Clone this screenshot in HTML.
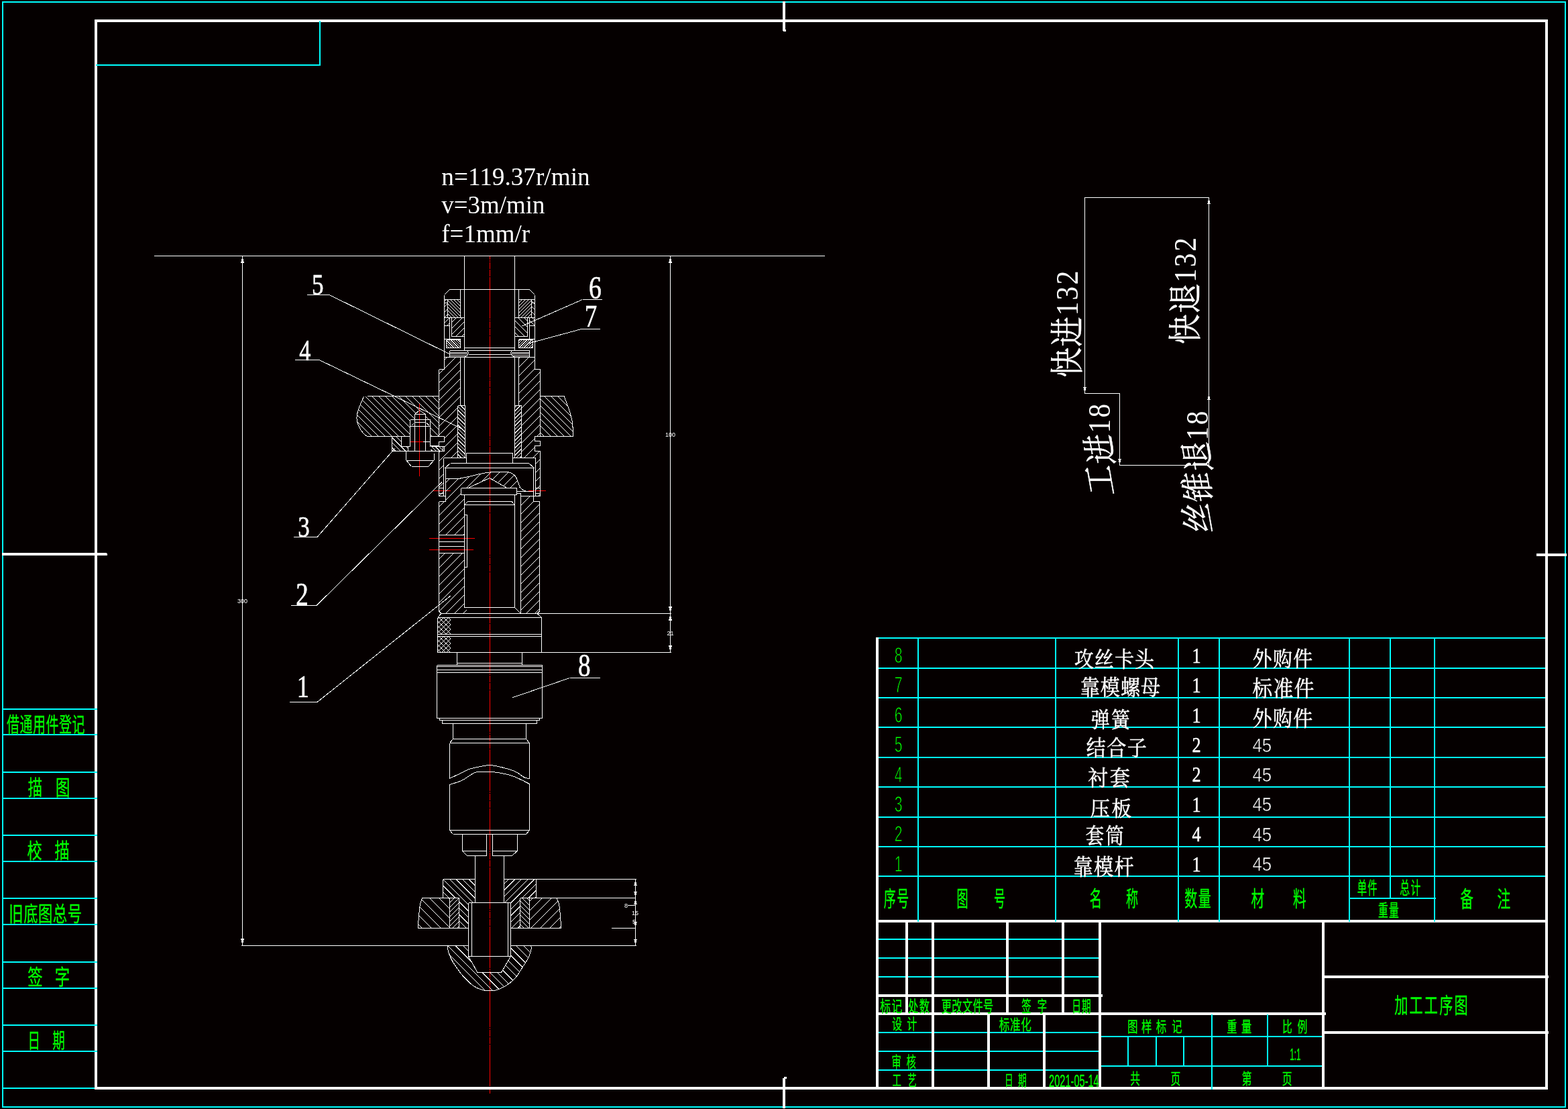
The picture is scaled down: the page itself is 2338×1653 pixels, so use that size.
<!DOCTYPE html>
<html lang="zh"><head><meta charset="utf-8"><title>加工工序图</title>
<style>html,body{margin:0;padding:0;background:#050000;}body{width:2338px;height:1653px;overflow:hidden;font-family:"Liberation Sans",sans-serif;}svg{display:block;will-change:transform}text{white-space:pre}.gl{font-family:"Liberation Sans","Noto Sans CJK SC",sans-serif;fill:#00ff00;stroke:#00ff00;stroke-width:0.4}.wl{font-family:"Liberation Serif","Noto Serif CJK SC",serif;fill:#ffffff;stroke:#ffffff;stroke-width:0.5}</style></head>
<body><svg width="2338" height="1653" viewBox="0 0 2338 1653">
<rect width="2338" height="1653" fill="#050000"/>
<path d="M730.5,381V1630" stroke="#ff0000" stroke-width="1" fill="none" stroke-dasharray="62 1 2 1 10 1 10 1" stroke-dashoffset="56" shape-rendering="crispEdges"/>
<rect x="3" y="2" width="2332" height="2" fill="#00ffff"/>
<rect x="3" y="1649" width="2332" height="2" fill="#00ffff"/>
<rect x="3" y="2" width="2" height="1649" fill="#00ffff"/>
<rect x="2333" y="2" width="2" height="1649" fill="#00ffff"/>
<rect x="141" y="29" width="2167" height="4" fill="#ffffff"/>
<rect x="141" y="1620" width="2167" height="4" fill="#ffffff"/>
<rect x="141" y="29" width="4" height="1595" fill="#ffffff"/>
<rect x="2304" y="29" width="4" height="1595" fill="#ffffff"/>
<rect x="1167" y="2" width="4" height="44" fill="#ffffff"/>
<rect x="1168" y="44" width="4" height="3" fill="#ffffff"/>
<rect x="1167" y="1607" width="4" height="45" fill="#ffffff"/>
<rect x="1169" y="1605" width="4" height="3" fill="#ffffff"/>
<rect x="3" y="824" width="156" height="4" fill="#ffffff"/>
<rect x="159" y="825" width="1" height="3" fill="#ffffff"/>
<rect x="2291" y="825" width="45" height="4" fill="#ffffff"/>
<rect x="143" y="96" width="335" height="2" fill="#00ffff"/>
<rect x="476" y="31" width="2" height="67" fill="#00ffff"/>
<rect x="5" y="1056" width="140" height="2" fill="#00ffff"/>
<rect x="5" y="1094" width="140" height="2" fill="#00ffff"/>
<rect x="5" y="1150" width="140" height="2" fill="#00ffff"/>
<rect x="5" y="1189" width="140" height="2" fill="#00ffff"/>
<rect x="5" y="1244" width="140" height="2" fill="#00ffff"/>
<rect x="5" y="1283" width="140" height="2" fill="#00ffff"/>
<rect x="5" y="1338" width="140" height="2" fill="#00ffff"/>
<rect x="5" y="1377" width="140" height="2" fill="#00ffff"/>
<rect x="5" y="1433" width="140" height="2" fill="#00ffff"/>
<rect x="5" y="1472" width="140" height="2" fill="#00ffff"/>
<rect x="5" y="1527" width="140" height="2" fill="#00ffff"/>
<rect x="5" y="1566" width="140" height="2" fill="#00ffff"/>
<rect x="5" y="1621" width="136" height="2" fill="#00ffff"/>
<rect x="1306" y="950" width="4" height="674" fill="#ffffff"/>
<rect x="1310" y="950" width="994" height="2" fill="#00ffff"/>
<rect x="1310" y="995" width="994" height="2" fill="#00ffff"/>
<rect x="1310" y="1039" width="994" height="2" fill="#00ffff"/>
<rect x="1310" y="1083" width="994" height="2" fill="#00ffff"/>
<rect x="1310" y="1128" width="994" height="2" fill="#00ffff"/>
<rect x="1310" y="1172" width="994" height="2" fill="#00ffff"/>
<rect x="1310" y="1217" width="994" height="2" fill="#00ffff"/>
<rect x="1310" y="1261" width="994" height="2" fill="#00ffff"/>
<rect x="1310" y="1305" width="994" height="2" fill="#00ffff"/>
<rect x="1368" y="950" width="2" height="422" fill="#00ffff"/>
<rect x="1573" y="950" width="2" height="422" fill="#00ffff"/>
<rect x="1756" y="950" width="2" height="422" fill="#00ffff"/>
<rect x="1817" y="950" width="2" height="422" fill="#00ffff"/>
<rect x="2011" y="950" width="2" height="422" fill="#00ffff"/>
<rect x="2138" y="950" width="2" height="422" fill="#00ffff"/>
<rect x="2072" y="950" width="2" height="389" fill="#00ffff"/>
<rect x="2011" y="1338" width="130" height="2" fill="#00ffff"/>
<rect x="1306" y="1371" width="1002" height="4" fill="#ffffff"/>
<rect x="1368" y="1371" width="2" height="3" fill="#00ffff"/>
<rect x="1573" y="1371" width="2" height="3" fill="#00ffff"/>
<rect x="1756" y="1371" width="2" height="3" fill="#00ffff"/>
<rect x="1817" y="1371" width="2" height="3" fill="#00ffff"/>
<rect x="2011" y="1371" width="2" height="3" fill="#00ffff"/>
<rect x="2138" y="1371" width="2" height="3" fill="#00ffff"/>
<rect x="1350" y="1374" width="4" height="138" fill="#ffffff"/>
<rect x="1389" y="1374" width="4" height="138" fill="#ffffff"/>
<rect x="1500" y="1374" width="4" height="138" fill="#ffffff"/>
<rect x="1583" y="1374" width="4" height="138" fill="#ffffff"/>
<rect x="1638" y="1374" width="4" height="250" fill="#ffffff"/>
<rect x="1306" y="1482" width="338" height="4" fill="#ffffff"/>
<rect x="1306" y="1509" width="671" height="4" fill="#ffffff"/>
<rect x="1389" y="1512" width="4" height="112" fill="#ffffff"/>
<rect x="1472" y="1512" width="4" height="112" fill="#ffffff"/>
<rect x="1555" y="1512" width="4" height="112" fill="#ffffff"/>
<rect x="1971" y="1374" width="4" height="250" fill="#ffffff"/>
<rect x="1974" y="1454" width="335" height="4" fill="#ffffff"/>
<rect x="1974" y="1537" width="335" height="4" fill="#ffffff"/>
<rect x="1310" y="1399" width="40" height="2" fill="#00ffff"/>
<rect x="1354" y="1399" width="35" height="2" fill="#00ffff"/>
<rect x="1393" y="1399" width="107" height="2" fill="#00ffff"/>
<rect x="1504" y="1399" width="79" height="2" fill="#00ffff"/>
<rect x="1587" y="1399" width="51" height="2" fill="#00ffff"/>
<rect x="1310" y="1427" width="40" height="2" fill="#00ffff"/>
<rect x="1354" y="1427" width="35" height="2" fill="#00ffff"/>
<rect x="1393" y="1427" width="107" height="2" fill="#00ffff"/>
<rect x="1504" y="1427" width="79" height="2" fill="#00ffff"/>
<rect x="1587" y="1427" width="51" height="2" fill="#00ffff"/>
<rect x="1310" y="1455" width="40" height="2" fill="#00ffff"/>
<rect x="1354" y="1455" width="35" height="2" fill="#00ffff"/>
<rect x="1393" y="1455" width="107" height="2" fill="#00ffff"/>
<rect x="1504" y="1455" width="79" height="2" fill="#00ffff"/>
<rect x="1587" y="1455" width="51" height="2" fill="#00ffff"/>
<rect x="1310" y="1538" width="79" height="2" fill="#00ffff"/>
<rect x="1393" y="1538" width="79" height="2" fill="#00ffff"/>
<rect x="1476" y="1538" width="79" height="2" fill="#00ffff"/>
<rect x="1559" y="1538" width="79" height="2" fill="#00ffff"/>
<rect x="1310" y="1566" width="79" height="2" fill="#00ffff"/>
<rect x="1393" y="1566" width="79" height="2" fill="#00ffff"/>
<rect x="1476" y="1566" width="79" height="2" fill="#00ffff"/>
<rect x="1559" y="1566" width="79" height="2" fill="#00ffff"/>
<rect x="1310" y="1594" width="79" height="2" fill="#00ffff"/>
<rect x="1393" y="1594" width="79" height="2" fill="#00ffff"/>
<rect x="1476" y="1594" width="79" height="2" fill="#00ffff"/>
<rect x="1559" y="1594" width="79" height="2" fill="#00ffff"/>
<rect x="1642" y="1544" width="329" height="2" fill="#00ffff"/>
<rect x="1642" y="1588" width="329" height="2" fill="#00ffff"/>
<rect x="1806" y="1512" width="2" height="112" fill="#00ffff"/>
<rect x="1889" y="1512" width="2" height="77" fill="#00ffff"/>
<rect x="1681" y="1545" width="2" height="44" fill="#00ffff"/>
<rect x="1723" y="1545" width="2" height="44" fill="#00ffff"/>
<rect x="1764" y="1545" width="2" height="44" fill="#00ffff"/>
<text class="gl" transform="translate(10.03,1090.72) scale(0.625,1)" font-size="30.4" letter-spacing="0.8">借通用件登记</text>
<text class="gl" transform="translate(41.72,1184.72) scale(0.7,1)" font-size="30.4" x="0 58.8">描图</text>
<text class="gl" transform="translate(40.61,1278.72) scale(0.73,1)" font-size="30.4" x="0 56.2">校描</text>
<text class="gl" transform="translate(13.36,1372.68) scale(0.687,1)" font-size="31" letter-spacing="0.8">旧底图总号</text>
<text class="gl" transform="translate(41.21,1467.64) scale(0.71,1)" font-size="31.5" x="0 57">签字</text>
<text class="gl" transform="translate(41.46,1561.72) scale(0.61,1)" font-size="30.4" x="0 60.4">日期</text>
<text class="gl" transform="translate(1317.76,1350.64) scale(0.571,1)" font-size="31.5" letter-spacing="2.5">序号</text>
<text class="gl" transform="translate(1426.53,1350.64) scale(0.54,1)" font-size="31.5" x="0 102.6">图号</text>
<text class="gl" transform="translate(1624.69,1350.64) scale(0.575,1)" font-size="31.5" x="0 94.5">名称</text>
<text class="gl" transform="translate(1766.23,1350.64) scale(0.603,1)" font-size="31.5" letter-spacing="2.7">数量</text>
<text class="gl" transform="translate(1865.61,1350.64) scale(0.623,1)" font-size="31.5" x="0 100">材料</text>
<text class="gl" transform="translate(2023.87,1332.72) scale(0.542,1)" font-size="26.4" letter-spacing="2.1">单件</text>
<text class="gl" transform="translate(2087.35,1332.72) scale(0.56,1)" font-size="26.4" letter-spacing="2.3">总计</text>
<text class="gl" transform="translate(2055.05,1366.31) scale(0.587,1)" font-size="25.2" letter-spacing="2.1">重量</text>
<text class="gl" transform="translate(2177.21,1351.55) scale(0.604,1)" font-size="32.6" x="0 91.7">备注</text>
<text class="gl" transform="translate(1312.22,1508.29) scale(0.697,1)" font-size="22.8" letter-spacing="1.9">标记</text>
<text class="gl" transform="translate(1354.04,1508.29) scale(0.675,1)" font-size="22.8" letter-spacing="1.85">处数</text>
<text class="gl" transform="translate(1403.74,1508.29) scale(0.667,1)" font-size="22.8" letter-spacing="0.6">更改文件号</text>
<text class="gl" transform="translate(1523.26,1508.29) scale(0.63,1)" font-size="22.8" x="0 37.3">签字</text>
<text class="gl" transform="translate(1598.19,1508.29) scale(0.605,1)" font-size="22.8" letter-spacing="1.9">日期</text>
<text class="gl" transform="translate(1330.04,1534.42) scale(0.715,1)" font-size="21.1" x="0 31.2">设计</text>
<text class="gl" transform="translate(1489.73,1535.37) scale(0.719,1)" font-size="21.7" letter-spacing="1">标准化</text>
<text class="gl" transform="translate(1329.61,1591.14) scale(0.65,1)" font-size="22.2" x="0 33.7">审核</text>
<text class="gl" transform="translate(1330.59,1618.21) scale(0.635,1)" font-size="21.2" x="0 35.6">工艺</text>
<text class="gl" transform="translate(1498.09,1618.21) scale(0.6,1)" font-size="21.2" x="0 33.1">日期</text>
<text class="gl" transform="translate(1680.99,1537.96) scale(0.71,1)" font-size="21.8" x="0 29.5 60.1 93.4">图样标记</text>
<text class="gl" transform="translate(1829.26,1537.96) scale(0.7,1)" font-size="21.8" x="0 30.9">重量</text>
<text class="gl" transform="translate(1912.06,1537.96) scale(0.68,1)" font-size="21.8" x="0 33.2">比例</text>
<text class="gl" transform="translate(1685.33,1616.00) scale(0.65,1)" font-size="22.7" x="0 92.7">共页</text>
<text class="gl" transform="translate(1851.83,1616.00) scale(0.65,1)" font-size="22.7" x="0 92.1">第页</text>
<text class="gl" transform="translate(2079.13,1509.75) scale(0.63,1)" font-size="32" letter-spacing="3.5">加工工序图</text>
<text transform="translate(1333.65,987.90) scale(0.6306,1)" font-family="Liberation Sans, serif" font-size="33.52" fill="#00ff00" text-anchor="start" font-weight="normal" stroke="#050000" stroke-width="0.9">8</text>
<text transform="translate(1333.65,1032.30) scale(0.6306,1)" font-family="Liberation Sans, serif" font-size="33.52" fill="#00ff00" text-anchor="start" font-weight="normal" stroke="#050000" stroke-width="0.9">7</text>
<text transform="translate(1333.65,1076.70) scale(0.6306,1)" font-family="Liberation Sans, serif" font-size="33.52" fill="#00ff00" text-anchor="start" font-weight="normal" stroke="#050000" stroke-width="0.9">6</text>
<text transform="translate(1333.65,1121.10) scale(0.6306,1)" font-family="Liberation Sans, serif" font-size="33.52" fill="#00ff00" text-anchor="start" font-weight="normal" stroke="#050000" stroke-width="0.9">5</text>
<text transform="translate(1333.65,1165.50) scale(0.6306,1)" font-family="Liberation Sans, serif" font-size="33.52" fill="#00ff00" text-anchor="start" font-weight="normal" stroke="#050000" stroke-width="0.9">4</text>
<text transform="translate(1333.65,1209.90) scale(0.6306,1)" font-family="Liberation Sans, serif" font-size="33.52" fill="#00ff00" text-anchor="start" font-weight="normal" stroke="#050000" stroke-width="0.9">3</text>
<text transform="translate(1333.65,1254.30) scale(0.6306,1)" font-family="Liberation Sans, serif" font-size="33.52" fill="#00ff00" text-anchor="start" font-weight="normal" stroke="#050000" stroke-width="0.9">2</text>
<text transform="translate(1333.65,1298.70) scale(0.6306,1)" font-family="Liberation Sans, serif" font-size="33.52" fill="#00ff00" text-anchor="start" font-weight="normal" stroke="#050000" stroke-width="0.9">1</text>
<text transform="translate(1564.02,1619.80) scale(0.5882,1)" font-family="Liberation Sans, serif" font-size="24.86" fill="#00ff00" text-anchor="start" font-weight="normal" stroke="#00ff00" stroke-width="0.5">2021-05-14</text>
<text transform="translate(1923.33,1579.70) scale(0.4834,1)" font-family="Liberation Sans, serif" font-size="24.30" fill="#00ff00" text-anchor="start" font-weight="normal" stroke="#00ff00" stroke-width="0.5">1:1</text>
<text class="wl" transform="translate(1601.73,993.80) scale(0.907,1)" font-size="32.1" letter-spacing="1.1">攻丝卡头</text>
<text class="wl" transform="translate(1610.73,1036.10) scale(0.907,1)" font-size="32.1" letter-spacing="1.1">靠模螺母</text>
<text class="wl" transform="translate(1626.66,1083.60) scale(0.875,1)" font-size="32" letter-spacing="2.6">弹簧</text>
<text class="wl" transform="translate(1619.83,1125.60) scale(0.907,1)" font-size="32.1" letter-spacing="1.5">结合子</text>
<text class="wl" transform="translate(1622.09,1170.80) scale(0.944,1)" font-size="32" letter-spacing="2.6">衬套</text>
<text class="wl" transform="translate(1625.51,1216.19) scale(0.964,1)" font-size="30.8" letter-spacing="2.5">压板</text>
<text class="wl" transform="translate(1618.78,1256.90) scale(0.856,1)" font-size="32" letter-spacing="2.6">套筒</text>
<text class="wl" transform="translate(1600.53,1304.41) scale(0.877,1)" font-size="33.3" letter-spacing="1.5">靠模杆</text>
<text class="wl" transform="translate(1867.63,993.10) scale(0.941,1)" font-size="30.7" letter-spacing="1.5">外购件</text>
<text class="wl" transform="translate(1867.61,1037.95) scale(0.911,1)" font-size="32.6" letter-spacing="1.5">标准件</text>
<text class="wl" transform="translate(1867.63,1081.94) scale(0.92,1)" font-size="31.4" letter-spacing="1.5">外购件</text>
<text transform="translate(1784.00,987.80) scale(0.8500,1)" font-family="Liberation Serif, serif" font-size="30.8" fill="#ffffff" text-anchor="middle" font-weight="normal" stroke="#ffffff" stroke-width="0.5">1</text>
<text transform="translate(1784.00,1032.20) scale(0.8500,1)" font-family="Liberation Serif, serif" font-size="30.8" fill="#ffffff" text-anchor="middle" font-weight="normal" stroke="#ffffff" stroke-width="0.5">1</text>
<text transform="translate(1784.00,1076.60) scale(0.8500,1)" font-family="Liberation Serif, serif" font-size="30.8" fill="#ffffff" text-anchor="middle" font-weight="normal" stroke="#ffffff" stroke-width="0.5">1</text>
<text transform="translate(1784.00,1121.00) scale(0.8500,1)" font-family="Liberation Serif, serif" font-size="30.8" fill="#ffffff" text-anchor="middle" font-weight="normal" stroke="#ffffff" stroke-width="0.5">2</text>
<text transform="translate(1784.00,1165.40) scale(0.8500,1)" font-family="Liberation Serif, serif" font-size="30.8" fill="#ffffff" text-anchor="middle" font-weight="normal" stroke="#ffffff" stroke-width="0.5">2</text>
<text transform="translate(1784.00,1209.80) scale(0.8500,1)" font-family="Liberation Serif, serif" font-size="30.8" fill="#ffffff" text-anchor="middle" font-weight="normal" stroke="#ffffff" stroke-width="0.5">1</text>
<text transform="translate(1784.00,1254.20) scale(0.8500,1)" font-family="Liberation Serif, serif" font-size="30.8" fill="#ffffff" text-anchor="middle" font-weight="normal" stroke="#ffffff" stroke-width="0.5">4</text>
<text transform="translate(1784.00,1298.60) scale(0.8500,1)" font-family="Liberation Serif, serif" font-size="30.8" fill="#ffffff" text-anchor="middle" font-weight="normal" stroke="#ffffff" stroke-width="0.5">1</text>
<text transform="translate(1867.46,1120.50) scale(0.8833,1)" font-family="Liberation Sans, serif" font-size="29.33" fill="#ffffff" text-anchor="start" font-weight="normal" stroke="#050000" stroke-width="0.6">45</text>
<text transform="translate(1867.46,1164.90) scale(0.8833,1)" font-family="Liberation Sans, serif" font-size="29.33" fill="#ffffff" text-anchor="start" font-weight="normal" stroke="#050000" stroke-width="0.6">45</text>
<text transform="translate(1867.46,1209.30) scale(0.8833,1)" font-family="Liberation Sans, serif" font-size="29.33" fill="#ffffff" text-anchor="start" font-weight="normal" stroke="#050000" stroke-width="0.6">45</text>
<text transform="translate(1867.46,1253.70) scale(0.8833,1)" font-family="Liberation Sans, serif" font-size="29.33" fill="#ffffff" text-anchor="start" font-weight="normal" stroke="#050000" stroke-width="0.6">45</text>
<text transform="translate(1867.46,1298.10) scale(0.8833,1)" font-family="Liberation Sans, serif" font-size="29.33" fill="#ffffff" text-anchor="start" font-weight="normal" stroke="#050000" stroke-width="0.6">45</text>
<text x="658.3" y="276.1" font-family="Liberation Serif, serif" font-size="38.5" fill="#ffffff" textLength="221.3" lengthAdjust="spacingAndGlyphs">n=119.37r/min</text>
<text x="658.3" y="318.4" font-family="Liberation Serif, serif" font-size="38.5" fill="#ffffff" textLength="154.2" lengthAdjust="spacingAndGlyphs">v=3m/min</text>
<text x="658.3" y="360.8" font-family="Liberation Serif, serif" font-size="38.5" fill="#ffffff" textLength="131.7" lengthAdjust="spacingAndGlyphs">f=1mm/r</text>
<path d="M361.5,382L358.9,392L364.1,392Z" fill="#ffffff" shape-rendering="crispEdges"/>
<path d="M361.5,1409L358.9,1399L364.1,1399Z" fill="#ffffff" shape-rendering="crispEdges"/>
<path d="M999.5,382L996.9,392L1002.1,392Z" fill="#ffffff" shape-rendering="crispEdges"/>
<path d="M999.5,914L996.9,904L1002.1,904Z" fill="#ffffff" shape-rendering="crispEdges"/>
<path d="M999.5,915L996.9,925L1002.1,925Z" fill="#ffffff" shape-rendering="crispEdges"/>
<path d="M999.5,972L996.9,962L1002.1,962Z" fill="#ffffff" shape-rendering="crispEdges"/>
<path d="M947.5,1311L945.3,1320L949.7,1320Z" fill="#ffffff" shape-rendering="crispEdges"/>
<path d="M947.5,1338L945.3,1329L949.7,1329Z" fill="#ffffff" shape-rendering="crispEdges"/>
<path d="M947.5,1339L945.3,1348L949.7,1348Z" fill="#ffffff" shape-rendering="crispEdges"/>
<path d="M947.5,1383L945.3,1374L949.7,1374Z" fill="#ffffff" shape-rendering="crispEdges"/>
<path d="M947.5,1409L945.3,1400L949.7,1400Z" fill="#ffffff" shape-rendering="crispEdges"/>
<text x="361.5" y="899" font-family="Liberation Sans, sans-serif" font-size="9" fill="#ffffff" text-anchor="middle">300</text>
<text x="999.5" y="651" font-family="Liberation Sans, sans-serif" font-size="9" fill="#ffffff" text-anchor="middle">100</text>
<text x="999.5" y="947" font-family="Liberation Sans, sans-serif" font-size="9" fill="#ffffff" text-anchor="middle">21</text>
<text x="933.5" y="1353" font-family="Liberation Sans, sans-serif" font-size="9" fill="#ffffff" text-anchor="middle">8</text>
<text x="947" y="1364" font-family="Liberation Sans, sans-serif" font-size="9" fill="#ffffff" text-anchor="middle">15</text>
<text x="945.5" y="1377" font-family="Liberation Sans, sans-serif" font-size="9" fill="#ffffff" text-anchor="middle">5</text>
<text transform="translate(473.80,438.70) scale(0.7800,1)" font-family="Liberation Serif, serif" font-size="45.0" fill="#ffffff" text-anchor="middle" font-weight="normal" stroke="#ffffff" stroke-width="0.6">5</text>
<text transform="translate(454.70,537.10) scale(0.7800,1)" font-family="Liberation Serif, serif" font-size="43.9" fill="#ffffff" text-anchor="middle" font-weight="normal" stroke="#ffffff" stroke-width="0.6">4</text>
<text transform="translate(452.90,799.60) scale(0.7800,1)" font-family="Liberation Serif, serif" font-size="45.0" fill="#ffffff" text-anchor="middle" font-weight="normal" stroke="#ffffff" stroke-width="0.6">3</text>
<text transform="translate(450.60,901.90) scale(0.7800,1)" font-family="Liberation Serif, serif" font-size="47.5" fill="#ffffff" text-anchor="middle" font-weight="normal" stroke="#ffffff" stroke-width="0.6">2</text>
<text transform="translate(451.80,1038.50) scale(0.7800,1)" font-family="Liberation Serif, serif" font-size="46.6" fill="#ffffff" text-anchor="middle" font-weight="normal" stroke="#ffffff" stroke-width="0.6">1</text>
<text transform="translate(887.50,445.10) scale(0.7800,1)" font-family="Liberation Serif, serif" font-size="48.2" fill="#ffffff" text-anchor="middle" font-weight="normal" stroke="#ffffff" stroke-width="0.6">6</text>
<text transform="translate(880.90,487.00) scale(0.7800,1)" font-family="Liberation Serif, serif" font-size="47.3" fill="#ffffff" text-anchor="middle" font-weight="normal" stroke="#ffffff" stroke-width="0.6">7</text>
<text transform="translate(871.20,1008.40) scale(0.7800,1)" font-family="Liberation Serif, serif" font-size="47.6" fill="#ffffff" text-anchor="middle" font-weight="normal" stroke="#ffffff" stroke-width="0.6">8</text>
<path d="M1617.5,586L1615.3,577L1619.7,577Z" fill="#ffffff" shape-rendering="crispEdges"/>
<path d="M1669.5,693L1667.3,684L1671.7,684Z" fill="#ffffff" shape-rendering="crispEdges"/>
<path d="M1802.5,295L1800.3,304L1804.7,304Z" fill="#ffffff" shape-rendering="crispEdges"/>
<path d="M1802.5,587L1800.3,596L1804.7,596Z" fill="#ffffff" shape-rendering="crispEdges"/>
<g transform="translate(1606.5,562) rotate(-90)">
<text class="wl" transform="translate(-0.43,2.67) scale(0.9,1)" font-size="49.7" letter-spacing="1.1">快进</text>
<text transform="translate(91.4,0) scale(0.88,1)" letter-spacing="2.8" font-family="Liberation Serif, serif" font-size="47" fill="#ffffff">132</text>
</g>
<g transform="translate(1782.5,512.5) rotate(-90)">
<text class="wl" transform="translate(-0.43,2.67) scale(0.9,1)" font-size="49.7" letter-spacing="1.1">快退</text>
<text transform="translate(91.4,0) scale(0.88,1)" letter-spacing="2.8" font-family="Liberation Serif, serif" font-size="47" fill="#ffffff">132</text>
</g>
<g transform="translate(1655,737) rotate(-90)">
<g transform="translate(22.9,-16.5) skewY(-10) translate(-22.9,16.5)">
<text class="wl" transform="translate(-0.43,2.67) scale(0.9,1)" font-size="49.7">工</text>
</g>
<g transform="translate(68.6,-16.5) skewY(-10) translate(-68.6,16.5)">
<text class="wl" transform="translate(45.27,2.67) scale(0.9,1)" font-size="49.7">进</text>
</g>
<text transform="translate(91.4,0) scale(0.88,1)" letter-spacing="2.8" font-family="Liberation Serif, serif" font-size="47" fill="#ffffff">18</text>
</g>
<g transform="translate(1800.5,793.5) rotate(-90)">
<g transform="translate(22.9,-16.5) skewY(-10) translate(-22.9,16.5)">
<text class="wl" transform="translate(-0.43,2.67) scale(0.9,1)" font-size="49.7">丝</text>
</g>
<g transform="translate(68.6,-16.5) skewY(-10) translate(-68.6,16.5)">
<text class="wl" transform="translate(45.27,2.67) scale(0.9,1)" font-size="49.7">锥</text>
</g>
<g transform="translate(114.2,-16.5) skewY(-10) translate(-114.2,16.5)">
<text class="wl" transform="translate(90.97,2.67) scale(0.9,1)" font-size="49.7">退</text>
</g>
<text transform="translate(137.1,0) scale(0.88,1)" letter-spacing="2.8" font-family="Liberation Serif, serif" font-size="47" fill="#ffffff">18</text>
</g>
<path d="M625.5,602L625.5,709.5M612,658.5L631,658.5M646,731.5L672,731.5M788,731.5L814,731.5M640,802.5L708,802.5M640,819.5L706,819.5" stroke="#ff0000" stroke-width="1" fill="none" shape-rendering="crispEdges"/>
<path d="M230,381.5L1230,381.5M692.5,381.5L692.5,521.5M767.5,381.5L767.5,521.5M692.5,532.5L692.5,604.5M767.5,532.5L767.5,604.5M670.5,431.5L789.5,431.5M670.5,431.5L662.5,439.5M789.5,431.5L797.5,439.5M662.5,439.5L662.5,550.5M797.5,439.5L797.5,550.5M686.5,431.5L686.5,473.5M773.5,431.5L773.5,473.5M662.5,446.5L686.5,446.5M797.5,446.5L773.5,446.5M667.5,446.5L667.5,473.5M792.5,446.5L792.5,473.5M662.5,451.5L667.5,451.5M797.5,451.5L792.5,451.5M662.5,473.5L692.5,473.5M797.5,473.5L767.5,473.5M673.5,474L673.5,501.5M786.5,474L786.5,501.5M673.5,501.5L692.5,501.5M786.5,501.5L767.5,501.5M670.5,473.5L670.5,505.5M789.5,473.5L789.5,505.5M662.5,485.5L670.5,485.5M797.5,485.5L789.5,485.5M662.5,505.5L686.5,505.5M797.5,505.5L773.5,505.5M665.5,506.5L686.5,506.5L686.5,518.5L665.5,518.5L665.5,506.5M794.5,506.5L773.5,506.5L773.5,518.5L794.5,518.5L794.5,506.5M692.5,518.5L767.5,518.5M670.5,522.5L789.5,522.5M670.5,522.5L670.5,532.5M789.5,522.5L789.5,532.5M670.5,525.5L697,525.5M789.5,525.5L763,525.5M670.5,527.5L697,527.5M789.5,527.5L763,527.5M670.5,530.5L695,530.5M789.5,530.5L765,530.5M697,522.5L698.5,526M763,522.5L761.5,526M698.5,526L696,530.5M761.5,526L764,530.5M696,530.5L692.5,532.5M764,530.5L767.5,532.5M698.5,528.5L761.5,528.5M662.5,532.5L797.5,532.5M667.5,472.5L668.5,473.5M667.5,467.5L673.5,473.5M667.5,462.5L678.5,473.5M667.5,457.5L683.5,473.5M667.5,452.5L686.5,471.5M667.5,447.5L686.5,466.5M671.5,446.5L686.5,461.5M676.5,446.5L686.5,456.5M681.5,446.5L686.5,451.5M773.5,451.5L778.5,446.5M773.5,456.5L783.5,446.5M773.5,461.5L788.5,446.5M773.5,466.5L792.5,447.5M773.5,471.5L792.5,452.5M776.5,473.5L792.5,457.5M781.5,473.5L792.5,462.5M786.5,473.5L792.5,467.5M791.5,473.5L792.5,472.5M673.5,480.5L680.0,474.0M673.5,489.5L689.0,474.0M673.5,498.5L692.5,479.5M679.5,501.5L692.5,488.5M688.5,501.5L692.5,497.5M767.5,495.5L773.5,501.5M767.5,486.5L782.5,501.5M767.5,477.5L786.5,496.5M773.0,474.0L786.5,487.5M782.0,474.0L786.5,478.5M665.5,514.3L669.7,518.5M665.5,510.7L673.3,518.5M665.5,507.1L676.9,518.5M668.5,506.5L680.5,518.5M672.1,506.5L684.1,518.5M675.7,506.5L686.5,517.3M679.3,506.5L686.5,513.7M682.9,506.5L686.5,510.1M773.5,508.1L775.1,506.5M773.5,511.7L778.7,506.5M773.5,515.3L782.3,506.5M773.9,518.5L785.9,506.5M777.5,518.5L789.5,506.5M781.1,518.5L793.1,506.5M784.7,518.5L794.5,508.7M788.3,518.5L794.5,512.3M791.9,518.5L794.5,515.9M662.5,449.5L665.5,446.5M662.5,457.5L667.5,452.5M662.5,465.5L667.5,460.5M662.5,473.5L667.5,468.5M792.5,472.5L793.5,473.5M792.5,464.5L797.5,469.5M792.5,456.5L797.5,461.5M792.5,448.5L797.5,453.5M662.5,481.5L670.5,473.5M666.5,485.5L670.5,481.5M789.5,477.5L797.5,485.5M793.5,473.5L797.5,477.5M662.5,550.5L654.5,550.5M797.5,550.5L805.5,550.5M654.5,550.5L654.5,650M805.5,550.5L805.5,650M654.5,672.5L654.5,739.5M805.5,672.5L805.5,739.5M654.5,657.5L654.5,664.5M686.5,532.5L686.5,604.5M773.5,532.5L773.5,604.5M682.5,604.5L693.5,604.5L693.5,682.5L682.5,682.5L682.5,604.5M767.5,604.5L777.5,604.5L777.5,682.5L767.5,682.5L767.5,604.5M682.5,677.0L688.0,682.5M682.5,671.5L693.5,682.5M682.5,666.0L693.5,677.0M682.5,660.5L693.5,671.5M682.5,655.0L693.5,666.0M682.5,649.5L693.5,660.5M682.5,644.0L693.5,655.0M682.5,638.5L693.5,649.5M682.5,633.0L693.5,644.0M682.5,627.5L693.5,638.5M682.5,622.0L693.5,633.0M682.5,616.5L693.5,627.5M682.5,611.0L693.5,622.0M682.5,605.5L693.5,616.5M687.0,604.5L693.5,611.0M692.5,604.5L693.5,605.5M767.5,607.5L770.5,604.5M767.5,613.0L776.0,604.5M767.5,618.5L777.5,608.5M767.5,624.0L777.5,614.0M767.5,629.5L777.5,619.5M767.5,635.0L777.5,625.0M767.5,640.5L777.5,630.5M767.5,646.0L777.5,636.0M767.5,651.5L777.5,641.5M767.5,657.0L777.5,647.0M767.5,662.5L777.5,652.5M767.5,668.0L777.5,658.0M767.5,673.5L777.5,663.5M767.5,679.0L777.5,669.0M769.5,682.5L777.5,674.5M775.0,682.5L777.5,680.0M692.5,604.5L692.5,604.5M662.5,536.5L666.5,532.5M654.5,557.5L661.5,550.5M662.5,549.5L679.5,532.5M654.5,570.5L686.5,538.5M654.5,583.5L686.5,551.5M654.5,596.5L686.5,564.5M654.5,609.5L686.5,577.5M654.5,622.5L686.5,590.5M654.5,635.5L682.5,607.5M685.5,604.5L686.5,603.5M654.5,648.5L682.5,620.5M662.5,653.5L682.5,633.5M654.5,674.5L656.5,672.5M662.5,666.5L682.5,646.5M654.5,687.5L682.5,659.5M654.5,700.5L661.5,693.5M672.5,682.5L682.5,672.5M654.5,713.5L661.5,706.5M654.5,726.5L661.5,719.5M654.5,739.5L661.5,732.5M773.5,534.5L775.5,532.5M773.5,547.5L788.5,532.5M773.5,560.5L797.5,536.5M773.5,573.5L797.5,549.5M773.5,586.5L805.5,554.5M773.5,599.5L805.5,567.5M777.5,608.5L805.5,580.5M777.5,621.5L805.5,593.5M777.5,634.5L805.5,606.5M777.5,647.5L805.5,619.5M777.5,660.5L805.5,632.5M777.5,673.5L797.5,653.5M801.0,650.0L805.5,645.5M781.5,682.5L797.5,666.5M794.5,682.5L804.5,672.5M798.5,691.5L805.5,684.5M798.5,704.5L805.5,697.5M798.5,717.5L805.5,710.5M798.5,730.5L805.5,723.5M802.5,739.5L805.5,736.5M548,590.5L654.5,590.5M542.5,591L539.329,598.255L536.463,605.037L534.125,611.375L532.537,617.296L531.921,622.829L532.5,628L534.292,633.648L536.636,638.624L539.484,642.976L542.788,646.752L546.5,650M546.5,650L611.5,650M532.7,628.7L554.0,650.0M532.4,618.4L564.0,650.0M534.5,610.5L574.0,650.0M537.2,603.2L584.0,650.0M540.2,596.2L594.0,650.0M545.0,591.0L604.0,650.0M554.9,590.9L611.5,647.5M564.9,590.9L611.5,637.5M574.9,590.9L611.5,627.5M584.8,590.8L618.5,624.5M641.5,647.5L644.0,650.0M594.8,590.8L620.1,616.1M641.5,637.5L654.0,650.0M604.7,590.7L625.5,611.5M634.5,620.5L639.5,625.5M641.5,627.5L654.5,640.5M614.7,590.7L654.5,630.5M624.6,590.6L654.5,620.5M634.6,590.6L654.5,610.5M644.5,590.5L654.5,600.5M805.5,590.5L841,590.5M841,590.5L844.4,599.3L849.6,613.2L853.1,627.2L854.8,644.6L854.8,650M797.5,650L855,650M805.5,644.5L811.0,650.0M805.5,634.5L821.0,650.0M805.5,624.5L831.0,650.0M805.5,614.5L841.0,650.0M805.5,604.5L851.0,650.0M805.5,594.5L854.7,643.7M811.5,590.5L853.6,632.6M821.5,590.5L851.4,620.4M831.5,590.5L846.9,605.9M797.5,650L797.5,657.5L805.5,657.5L805.5,664.5L797.5,664.5L797.5,672.5L805.5,672.5M584.5,650L584.5,672.5M584.5,672.5L662.5,672.5M598.5,650L598.5,665.5M598.5,665.5L611.5,665.5M608.5,665.5L608.5,672.5M584.5,667.0L590.0,672.5M584.5,659.5L597.5,672.5M584.5,652.0L605.0,672.5M590.0,650.0L598.5,658.5M605.5,665.5L608.5,668.5M597.5,650.0L598.5,651.0M611.5,625.5L641.5,625.5M611.5,625.5L611.5,665.5M641.5,625.5L641.5,665.5M611.5,635.5L641.5,635.5M618.5,617.5L618.5,672.5M634.5,617.5L634.5,672.5M618.5,617.5L634.5,617.5M618.5,617.5L625.5,611.5M634.5,617.5L625.5,611.5M618.5,629.5L634.5,629.5M613.5,634.5L617,631M636,630.5L639.5,634M631,658.5L641.5,658.5M641.5,650L662.5,650L662.5,658.5L654.5,658.5L654.5,664.5L641.5,664.5M642.5,665.5L662.5,665.5L662.5,672.5M660.5,665.5L660.5,672.5M642.5,670.0L645.0,672.5M643.5,665.5L650.5,672.5M649.0,665.5L656.0,672.5M654.5,665.5L660.5,671.5M605.5,672.5L605.5,685.5M647.5,676L647.5,685.5M605.5,685.5L613.5,695.5M647.5,685.5L638.5,695.5M613.5,695.5L638.5,695.5M606,686.5L647,686.5M695.5,690.5L695.5,675.5L764.5,675.5L764.5,690.5M661.5,682.5L695.5,682.5M798.5,682.5L764.5,682.5M661.5,682.5L661.5,739.5M798.5,682.5L798.5,739.5M664.5,697.5L664.5,747.5M795.5,697.5L795.5,747.5M671.5,690.5L788.5,690.5M671.5,690.5L663.5,697.5M788.5,690.5L796.5,697.5M663.5,697.5L796.5,697.5M664.5,713.5L685,713.5M685.2,713.3L688.238,712.655L692.6,711.731L697.463,710.691L702,709.7L706.15,708.742L710.3,707.75L714.3,706.808L718,706L721.375,705.35L724.5,704.813L727.375,704.369L730,704L732.054,703.717L733.644,703.525L735.412,703.395L738,703.3L741.952,703.176L746.8,703.056L751.673,703.059L755.7,703.3L758.617,703.837L760.9,704.6L762.783,705.512L764.5,706.5L766.039,707.513L767.3,708.6L768.386,709.837L769.4,711.3L770.32,713.094L771.106,715.15L771.84,717.281L772.6,719.3L773.344,721.212L774.05,723.1L774.831,724.887L775.8,726.5L777.031,727.958L778.45,729.288L779.944,730.423L781.4,731.3L782.931,731.841L784.55,732.1L785.994,732.209L787,732.3L795,732.5M698,727.3L730,712.5L755.7,727.3M687.5,727.5L770.5,727.5L770.5,737.5L687.5,737.5L687.5,727.5M770.5,735.5L776.5,735.5M770.5,732.5L795.5,732.5M654.5,727.5L661.5,727.5M805.5,727.5L798.5,727.5M654.5,735.5L661.5,735.5M805.5,735.5L798.5,735.5M654.5,739.5L664.5,739.5M805.5,739.5L795.5,739.5M776.5,739.5L795.5,739.5M654.5,747.5L664.5,747.5M795.5,747.5L804.5,747.5M654.5,747.5L654.5,911M804.5,747.5L804.5,911M664.5,719.5L670.6,713.4M664.5,732.5L683.7,713.3M654.5,755.5L662.5,747.5M664.5,745.5L699.8,710.2M654.5,768.5L687.5,735.5M695.7,727.3L716.7,706.3M654.5,781.5L692.5,743.5M717.9,718.1L732.3,703.7M654.5,794.5L692.5,756.5M734.1,714.9L745.9,703.1M664.5,797.5L692.5,769.5M742.4,719.6L758.2,703.8M677.5,797.5L692.5,782.5M750.6,724.4L766.8,708.2M690.5,797.5L692.5,795.5M760.6,727.4L771.6,716.4M774.2,726.8L775.3,725.7M692.5,737.5L692.5,905.5M767.5,737.5L767.5,905.5M776.5,735.5L776.5,914.5M697.5,747.5L763,747.5L767.5,752.5L692.5,752.5L697.5,747.5M692.5,767.5L696.5,767.5L696.5,845.5L692.5,845.5M654.5,797.5L692.5,797.5M654.5,807.5L692.5,807.5M654.5,814.5L692.5,814.5M654.5,824.5L692.5,824.5M654.5,833.5L663.5,824.5M654.5,846.5L676.5,824.5M654.5,859.5L689.5,824.5M654.5,872.5L692.5,834.5M654.5,885.5L692.5,847.5M654.5,898.5L692.5,860.5M654.8,911.2L692.5,873.5M664.5,914.5L692.5,886.5M677.5,914.5L692.5,899.5M690.5,914.5L696.0,909.0M776.5,740.5L777.5,739.5M776.5,753.5L790.5,739.5M776.5,766.5L795.5,747.5M776.5,779.5L804.5,751.5M776.5,792.5L804.5,764.5M776.5,805.5L804.5,777.5M776.5,818.5L804.5,790.5M776.5,831.5L804.5,803.5M776.5,844.5L804.5,816.5M776.5,857.5L804.5,829.5M776.5,870.5L804.5,842.5M776.5,883.5L804.5,855.5M776.5,896.5L804.5,868.5M776.5,909.5L804.5,881.5M784.5,914.5L804.5,894.5M797.5,914.5L804.5,907.5M692.5,905.5L767.5,905.5M767.5,905.5L776.5,914.5M658,914.5L1001,914.5M654.5,911L658,914.5M804.5,911L801,914.5M658,914.5L652.5,920.5M801,914.5L807.5,920.5M652.5,920.5L807.5,920.5M652.5,920.5L652.5,972.5M807.5,920.5L807.5,972.5M652.5,945.5L807.5,945.5M652.5,948.5L807.5,948.5M652.5,972.5L1001,972.5M652.5,922.5L654.0,921.0M652.5,929.5L661.0,921.0M652.5,936.5L668.0,921.0M652.5,943.5L672.0,924.0M658.0,945.0L672.0,931.0M665.0,945.0L672.0,938.0M652.5,939.5L658.0,945.0M652.5,932.5L665.0,945.0M652.5,925.5L672.0,945.0M655.0,921.0L672.0,938.0M662.0,921.0L672.0,931.0M669.0,921.0L672.0,924.0M652.5,950.5L654.0,949.0M652.5,957.5L661.0,949.0M652.5,964.5L668.0,949.0M652.5,971.5L672.0,952.0M659.0,972.0L672.0,959.0M666.0,972.0L672.0,966.0M652.5,967.5L657.0,972.0M652.5,960.5L664.0,972.0M652.5,953.5L671.0,972.0M655.0,949.0L672.0,966.0M662.0,949.0L672.0,959.0M669.0,949.0L672.0,952.0M681.5,972.5L681.5,991.5M778.5,972.5L778.5,991.5M681.5,988.5L778.5,988.5M651.5,991.5L808.5,991.5M651.5,993.5L808.5,993.5M651.5,998.5L808.5,998.5M651.5,1002.5L808.5,1002.5M651.5,1070.5L808.5,1070.5M651.5,991.5L651.5,1070.5M808.5,991.5L808.5,1070.5M655.5,1070.5L655.5,1073.5M804.5,1070.5L804.5,1073.5M655.5,1073.5L804.5,1073.5M659.5,1073.5L659.5,1078.5M800.5,1073.5L800.5,1078.5M659.5,1078.5L800.5,1078.5M675.5,1078.5L675.5,1101.5M784.5,1078.5L784.5,1101.5M675.5,1101.5L784.5,1101.5M675.5,1101.5L670.5,1107.5M784.5,1101.5L789.5,1107.5M670.5,1107.5L789.5,1107.5M670.5,1107.5L670.5,1160.5M789.5,1107.5L789.5,1160.5M670.4,1160.3L673.932,1158.65L679.044,1156.27L684.484,1153.73L689,1151.6L692.033,1150.02L694.325,1148.7L696.58,1147.53L699.5,1146.4L703.423,1145.29L707.925,1144.24L712.564,1143.3L716.9,1142.5L720.681,1141.75L724.187,1141.06L727.775,1140.61L731.8,1140.6L736.502,1141.14L741.644,1142.12L746.863,1143.34L751.8,1144.6L756.455,1145.87L760.987,1147.24L765.277,1148.74L769.2,1150.4L772.705,1152.42L775.862,1154.73L778.739,1156.92L781.4,1158.6L783.964,1159.6L786.362,1160.16L788.38,1160.47L789.8,1160.7M670.4,1169.4L673.629,1168.44L678.269,1167.09L683.424,1165.42L688.2,1163.5L692.599,1161.08L697.019,1158.2L701.154,1155.42L704.7,1153.3L707.196,1152.04L708.931,1151.32L710.726,1150.92L713.4,1150.6L717.28,1150.3L721.894,1150.15L726.86,1150.17L731.8,1150.4L736.748,1150.85L741.862,1151.51L746.945,1152.33L751.8,1153.3L756.258,1154.34L760.462,1155.5L764.686,1156.88L769.2,1158.6L774.608,1161.02L780.588,1163.98L786.023,1166.77L789.8,1168.7M670.5,1169.5L670.5,1237.5M789.5,1168.5L789.5,1237.5M670.5,1237.5L789.5,1237.5M670.5,1237.5L675.5,1243.5M789.5,1237.5L784.5,1243.5M675.5,1243.5L784.5,1243.5M689.5,1243.5L689.5,1268.5L696.5,1275.5L725.5,1275.5L725.5,1243.5M689.5,1268.5L725.5,1268.5M771,1243.5L771,1268.5L763.5,1275.5L734.5,1275.5L734.5,1243.5M734.5,1268.5L771,1268.5M708.5,1275.5L708.5,1345.5M751.5,1275.5L751.5,1345.5M660.5,1310.5L708.5,1310.5M751.5,1310.5L948.5,1310.5M660.5,1310.5L660.5,1338.5M799.5,1310.5L799.5,1338.5M629.5,1338.5L684.5,1338.5M775.5,1338.5L947.5,1338.5M629.5,1338.5L626.3,1348L624.5,1365L623.2,1383.5M623,1383.5L698.5,1383.5M830.2,1338.5L833.7,1348L835.5,1365L836.7,1383.5M761.5,1383.5L837,1383.5M670.5,1338.5L670.5,1383.5M684.5,1338.5L684.5,1383.5M775.5,1338.5L775.5,1383.5M789.5,1338.5L789.5,1383.5M698.5,1345.5L761.5,1345.5M698.5,1345.5L698.5,1425.5M703.5,1345.5L703.5,1425.5M757,1345.5L757,1425.5M761.5,1345.5L761.5,1425.5M698.5,1425.5L761.5,1425.5M698.5,1425.5L712,1449.5M761.5,1425.5L747.5,1449.5M712,1449.5L747.5,1449.5M684.5,1382.3L685.7,1383.5M684.5,1372.7L695.3,1383.5M684.5,1363.1L698.5,1377.1M660.5,1329.5L669.5,1338.5M684.5,1353.5L698.5,1367.5M660.5,1319.9L679.1,1338.5M684.5,1343.9L698.5,1357.9M660.7,1310.5L698.5,1348.3M670.3,1310.5L705.3,1345.5M679.9,1310.5L708.5,1339.1M689.5,1310.5L708.5,1329.5M699.1,1310.5L708.5,1319.9M751.5,1317.5L758.5,1310.5M751.5,1327.1L768.1,1310.5M751.5,1336.7L777.7,1310.5M752.3,1345.5L787.3,1310.5M761.5,1345.9L796.9,1310.5M761.5,1355.5L775.5,1341.5M778.5,1338.5L799.5,1317.5M761.5,1365.1L775.5,1351.1M788.1,1338.5L799.5,1327.1M761.5,1374.7L775.5,1360.7M797.7,1338.5L799.5,1336.7M762.3,1383.5L775.5,1370.3M771.9,1383.5L775.5,1379.9M670.5,1345.5L677.5,1338.5M670.5,1352.5L684.5,1338.5M670.5,1359.5L684.5,1345.5M670.5,1366.5L684.5,1352.5M670.5,1373.5L684.5,1359.5M670.5,1380.5L684.5,1366.5M674.5,1383.5L684.5,1373.5M681.5,1383.5L684.5,1380.5M775.5,1377.5L781.5,1383.5M775.5,1370.5L788.5,1383.5M775.5,1363.5L789.5,1377.5M775.5,1356.5L789.5,1370.5M775.5,1349.5L789.5,1363.5M775.5,1342.5L789.5,1356.5M778.5,1338.5L789.5,1349.5M785.5,1338.5L789.5,1342.5M623.6,1377.6L629.5,1383.5M624.5,1364.5L643.5,1383.5M625.9,1351.9L657.5,1383.5M628.7,1340.7L670.5,1382.5M640.5,1338.5L670.5,1368.5M654.5,1338.5L670.5,1354.5M668.5,1338.5L670.5,1340.5M789.5,1343.5L794.5,1338.5M789.5,1357.5L808.5,1338.5M789.5,1371.5L822.5,1338.5M791.5,1383.5L831.9,1343.1M805.5,1383.5L834.4,1354.6M819.5,1383.5L835.7,1367.3M833.5,1383.5L836.5,1380.5M360,1409.5L698.5,1409.5M761.5,1409.5L948.5,1409.5M667.2,1409.6L667.478,1412.02L667.944,1415.54L668.9,1419.5L670.478,1423.83L672.544,1428.61L675,1433.4L678.037,1438.26L681.463,1443.12L684.6,1447.4L686.87,1450.53L688.852,1453.07L691.6,1456.1L695.719,1460.39L700.604,1465.17L705.5,1469.2L710.27,1472.01L715.052,1474.09L719.5,1475.6L723.43,1476.54L727.026,1476.93L730.5,1477L733.73,1476.93L736.837,1476.54L740.4,1475.6L744.767,1474.02L749.589,1471.88L754.4,1469.2L759.167,1465.96L763.922,1462.17L768.3,1457.9L772.119,1452.93L775.559,1447.47L778.8,1442.2L781.993,1437.34L784.985,1432.67L787.5,1428.2L789.448,1423.79L790.919,1419.57L791.9,1416L792.226,1413.2L792.063,1411.04L791.9,1409.6M690.6,1455.0L701.5,1465.9M670.3,1423.4L723.4,1476.5M667.8,1409.6L735.0,1476.8M679.1,1409.6L703.0,1433.5M719.0,1449.5L743.9,1474.4M690.4,1409.6L698.5,1417.7M730.3,1449.5L751.6,1470.8M741.6,1449.5L758.5,1466.4M749.5,1446.1L764.8,1461.4M753.7,1439.0L770.2,1455.5M757.8,1431.8L774.8,1448.8M761.5,1424.2L779.1,1441.8M761.5,1412.9L783.5,1434.9M769.5,1409.6L787.7,1427.8M780.8,1409.6L790.9,1419.7M361.5,381.5L361.5,1409.5M999.5,381.5L999.5,972.5M947.5,1310.5L947.5,1409.5M912,1383.5L947.5,1383.5M936,1349.5L947,1349.5M432,1046.5L473,1046.5M473,1046.5L672.4,887.6M434,902.5L472,902.5M472,902.5L658.7,718.7M438,800.5L473,800.5M473,800.5L588.9,668.2M439.5,536.5L476,536.5M476,536.5L688,638.7M458,439.5L491,439.5M491,439.5L670.3,527.7M868.5,446.5L898,446.5M868.5,446.5L777.7,486.3M867,490.5L895,490.5M867,490.5L788.2,511.8M849.5,1010.5L895,1010.5M849.5,1010.5L764,1039.8M1617.5,586.5L1617.5,294.5L1802.5,294.5L1802.5,693.5L1669.5,693.5L1669.5,586.5L1617.5,586.5" stroke="#ffffff" stroke-width="1" fill="none" shape-rendering="crispEdges"/>
</svg></body></html>
